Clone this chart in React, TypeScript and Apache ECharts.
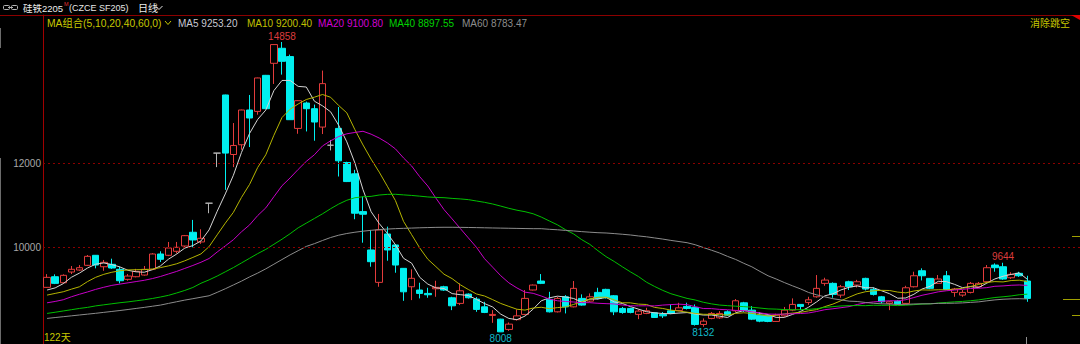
import React, { useEffect, useRef } from 'react';
import * as echarts from 'echarts';

// ---- daily OHLC (122 trading days) ----
const open = [
  9063, 9314, 9172, 9425, 9472, 9583, 9820, 9550, 9607, 9489,
  9252, 9314, 9354, 9489, 9851, 9820, 9915, 10040, 10364, 10135,
  11051, 12234, 13607, 12201, 12431, 13252, 13219, 14071, 14355, 14710,
  14514, 12817, 13417, 13283, 12849, 12420, 12817, 12012, 11745, 10852,
  9946, 9181, 10324, 10064, 9512, 9077, 9000, 8920, 9029, 9077,
  8817, 8684, 8904, 8786, 8603, 8400, 8312, 8069, 8300, 8424,
  9000, 9212, 8779, 8485, 8840, 8603, 8802, 8738, 8944, 9015,
  8864, 8565, 8565, 8424, 8447, 8462, 8424, 8509, 8518, 8613,
  8589, 8187, 8329, 8343, 8485, 8509, 8698, 8525, 8407, 8400,
  8258, 8390, 8525, 8660, 8707, 8840, 9157, 9157, 8880, 9195,
  9117, 9275, 9015, 8840, 8684, 8738, 8684, 9077, 9455, 9275,
  9157, 9337, 8944, 8880, 8944, 9077, 9195, 9590, 9550, 9290,
  9394, 9212,
];
const close = [
  9299, 9157, 9347, 9489, 9527, 9796, 9590, 9654, 9520, 9219,
  9330, 9441, 9489, 9851, 9725, 9993, 10009, 10284, 10182, 10222,
  11051, 12234, 12234, 12414, 13252, 13063, 14009, 13283, 14797, 14402,
  13023, 13472, 13283, 12968, 13875, 12420, 12052, 11562, 10814, 10790,
  9669, 10419, 9946, 9590, 8958, 9276, 8920, 8888, 9063, 8999,
  8627, 8982, 8817, 8542, 8471, 8424, 8012, 8194, 8390, 8802,
  9117, 9157, 8485, 8802, 8603, 9039, 8644, 8840, 8802, 8817,
  8485, 8471, 8471, 8502, 8510, 8352, 8390, 8447, 8580, 8565,
  8187, 8265, 8447, 8447, 8407, 8746, 8525, 8312, 8265, 8258,
  8407, 8525, 8660, 8613, 8769, 9039, 9235, 8897, 9077, 9077,
  9195, 9023, 8897, 8722, 8722, 8667, 9053, 9337, 9337, 9039,
  9260, 9015, 9023, 8944, 9157, 9157, 9527, 9527, 9259, 9370,
  9337, 8802,
];
const low = [
  9050, 9140, 9160, 9377, 9455, 9567, 9512, 9455, 9500, 9157,
  9219, 9300, 9340, 9470, 9661, 9800, 9867, 9990, 10009, 10090,
  10814, 11903, 11366, 11903, 12313, 12376, 13141, 13283, 13867, 14088,
  13023, 12691, 12746, 12526, 12684, 12297, 11681, 11550, 10672, 10118,
  9550, 9077, 9692, 9408, 8745, 8762, 8802, 8818, 8840, 8980,
  8525, 8644, 8800, 8485, 8455, 8225, 8008, 8035, 8280, 8407,
  8990, 9140, 8470, 8470, 8447, 8590, 8630, 8720, 8780, 8800,
  8407, 8440, 8450, 8312, 8430, 8340, 8340, 8430, 8500, 8540,
  8160, 8132, 8310, 8320, 8390, 8480, 8480, 8290, 8240, 8240,
  8250, 8370, 8500, 8525, 8650, 8820, 9100, 8818, 8818, 9000,
  9060, 8990, 8870, 8680, 8525, 8650, 8660, 9060, 9226, 9020,
  9150, 9000, 8840, 8840, 8920, 9050, 9170, 9432, 9240, 9260,
  9310, 8722,
];
const high = [
  9376, 9370, 9370, 9567, 9590, 9827, 9827, 9710, 9740, 9550,
  9377, 9500, 9567, 9870, 9915, 10135, 10135, 10300, 10656, 10435,
  11051, 12234, 13614, 12944, 13260, 13607, 14016, 14080, 14800, 14858,
  14561, 13480, 13450, 13380, 14183, 12544, 13323, 12030, 11839, 11207,
  10419, 10797, 10497, 10080, 9520, 9489, 9172, 9053, 9219, 9100,
  8840, 9157, 8920, 8833, 8722, 8525, 8320, 8234, 8542, 9000,
  9130, 9377, 8958, 8840, 8880, 9212, 8897, 8920, 9053, 9030,
  8880, 8600, 8580, 8542, 8580, 8480, 8480, 8660, 8698, 8700,
  8660, 8329, 8480, 8502, 8520, 8786, 8720, 8620, 8480, 8420,
  8440, 8600, 8802, 8665, 8840, 9354, 9290, 9180, 9120, 9220,
  9240, 9290, 9062, 8860, 8740, 8760, 9100, 9432, 9512, 9280,
  9354, 9450, 9050, 9000, 9190, 9190, 9590, 9630, 9644, 9420,
  9430, 9337,
];

// ---- moving averages as drawn ----
const ma5 = [
  9000, 9050, 9150, 9300, 9400, 9520, 9610, 9640, 9600, 9545,
  9465, 9430, 9420, 9480, 9570, 9730, 9850, 9990, 10050, 10160,
  10420, 10860, 11270, 11710, 12250, 12700, 13030, 13250, 13710, 13950,
  13950, 13810, 13795, 13460, 13350, 13210, 12890, 12500, 12000, 11370,
  10850, 10570, 10340, 10070, 9750, 9635, 9300, 9140, 9050, 9035,
  8915, 8890, 8870, 8780, 8680, 8600, 8430, 8329, 8300, 8385,
  8550, 8745, 8815, 8855, 8835, 8800, 8715, 8786, 8786, 8828,
  8718, 8683, 8609, 8549, 8488, 8461, 8445, 8440, 8456, 8467,
  8434, 8409, 8409, 8382, 8351, 8462, 8514, 8487, 8451, 8421,
  8353, 8353, 8423, 8493, 8595, 8721, 8863, 8911, 9003, 9065,
  9096, 9054, 9054, 8983, 8912, 8806, 8812, 8900, 9023, 9087,
  9205, 9198, 9135, 9056, 9080, 9059, 9162, 9262, 9325, 9368,
  9404, 9253,
];
const ma10 = [
  8880, 8920, 8959, 9020, 9077, 9200, 9300, 9370, 9420, 9455,
  9475, 9480, 9482, 9495, 9530, 9570, 9620, 9690, 9770, 9853,
  10025, 10304, 10579, 10835, 11188, 11495, 11895, 12194, 12656, 13074,
  13271, 13395, 13500, 13555, 13618, 13553, 13358, 13185, 12787, 12426,
  12091, 11785, 11452, 11114, 10622, 10308, 9994, 9727, 9552, 9373,
  9269, 9125, 9012, 8907, 8859, 8773, 8683, 8613, 8546, 8526,
  8575, 8593, 8559, 8585, 8599, 8660, 8723, 8788, 8829, 8831,
  8767, 8699, 8697, 8667, 8658, 8589, 8564, 8525, 8503, 8477,
  8448, 8427, 8425, 8419, 8409, 8448, 8462, 8448, 8417, 8386,
  8408, 8434, 8455, 8472, 8508, 8537, 8608, 8667, 8748, 8830,
  8909, 8959, 8982, 8993, 8988, 8951, 8933, 8977, 9003, 8999,
  9006, 9005, 9018, 9040, 9083, 9132, 9180, 9199, 9191, 9224,
  9232, 9200,
];
const ma20 = [
  8698, 8730, 8770, 8840, 8900, 8955, 9015, 9065, 9110, 9140,
  9170, 9200, 9230, 9270, 9320, 9380, 9440, 9510, 9580, 9656,
  9744, 9898, 10042, 10188, 10375, 10538, 10759, 10940, 11204, 11463,
  11648, 11849, 12039, 12195, 12403, 12524, 12626, 12690, 12722, 12750,
  12681, 12590, 12476, 12334, 12120, 11930, 11676, 11456, 11170, 10899,
  10680, 10455, 10232, 10010, 9740, 9540, 9338, 9170, 9049, 8949,
  8922, 8859, 8786, 8746, 8729, 8717, 8703, 8701, 8687, 8678,
  8671, 8646, 8628, 8626, 8628, 8625, 8644, 8656, 8666, 8654,
  8607, 8563, 8561, 8543, 8533, 8519, 8513, 8486, 8460, 8432,
  8428, 8430, 8440, 8445, 8458, 8493, 8535, 8557, 8582, 8608,
  8658, 8696, 8719, 8732, 8748, 8744, 8771, 8822, 8876, 8915,
  8957, 8982, 9000, 9016, 9036, 9042, 9056, 9088, 9097, 9112,
  9119, 9108,
];
const ma40 = [
  8447, 8475, 8505, 8535, 8565, 8590, 8625, 8650, 8675, 8700,
  8720, 8745, 8770, 8800, 8835, 8875, 8930, 8990, 9060, 9160,
  9240, 9330, 9430, 9530, 9640, 9750, 9860, 9960, 10080, 10200,
  10330, 10470, 10580, 10690, 10800, 10920, 11030, 11120, 11180, 11203,
  11212, 11244, 11259, 11261, 11247, 11234, 11217, 11198, 11187, 11181,
  11164, 11152, 11135, 11103, 11071, 11032, 10982, 10930, 10885, 10850,
  10801, 10724, 10631, 10540, 10424, 10324, 10189, 10078, 9928, 9789,
  9675, 9550, 9430, 9318, 9184, 9083, 8991, 8913, 8857, 8802,
  8765, 8711, 8673, 8645, 8631, 8618, 8608, 8593, 8574, 8555,
  8549, 8538, 8534, 8536, 8543, 8559, 8589, 8607, 8624, 8631,
  8633, 8630, 8640, 8638, 8641, 8632, 8642, 8654, 8668, 8673,
  8692, 8706, 8720, 8731, 8747, 8767, 8796, 8823, 8840, 8860,
  8888, 8902,
];
const ma60 = [
  8329, 8350, 8370, 8390, 8410, 8430, 8450, 8472, 8494, 8516,
  8540, 8565, 8590, 8617, 8644, 8684, 8723, 8762, 8795, 8830,
  8864, 8945, 9030, 9120, 9210, 9310, 9400, 9500, 9610, 9720,
  9830, 9930, 10030, 10095, 10170, 10240, 10295, 10335, 10365, 10390,
  10410, 10428, 10440, 10450, 10457, 10463, 10470, 10475, 10480, 10482,
  10482, 10480, 10477, 10474, 10470, 10466, 10462, 10459, 10455, 10452,
  10449, 10449, 10434, 10423, 10408, 10395, 10379, 10366, 10354, 10347,
  10333, 10317, 10300, 10277, 10257, 10230, 10203, 10172, 10145, 10118,
  10070, 10004, 9941, 9875, 9794, 9722, 9631, 9548, 9439, 9336,
  9260, 9177, 9100, 9027, 8942, 8886, 8839, 8795, 8766, 8737,
  8729, 8706, 8688, 8674, 8670, 8660, 8662, 8670, 8674, 8675,
  8685, 8686, 8689, 8696, 8708, 8720, 8745, 8767, 8782, 8791,
  8795, 8789,
];

const yTicks = [10000, 12000];
const maNames = ['MA5', 'MA10', 'MA20', 'MA40', 'MA60'];
const maValues = ['9253.20', '9200.40', '9100.80', '8897.55', '8783.47'];
const maTextColors = ['#c8c8d2', '#c0c000', '#d200d2', '#00d200', '#8c8c8c'];
const maLineColors = ['#d4d4d4', '#b4b400', '#c800c8', '#00c000', '#8c8c8c'];
const maLegendX = [178, 247, 318, 389, 462];
const extremes = [
  { idx: 29, kind: 'high' },
  { idx: 56, kind: 'low' },
  { idx: 81, kind: 'low' },
  { idx: 118, kind: 'high' },
];
const titleName = '硅铁2205';
const titleCode = '(CZCE SF205)';
const periodText = '日线';
const maGroupText = 'MA组合(5,10,20,40,60,0)';
const gapText = '消除跳空';
const daysText = '122天';

const FONT = '"Liberation Sans", "Noto Sans CJK SC", Arial, sans-serif';

export default function App() {
  const ref = useRef<HTMLDivElement>(null);
  useEffect(() => {
    const chart = echarts.init(ref.current as HTMLDivElement, null, { renderer: 'svg' });
    const days = open.map((_, i) => String(i + 1));
    const candleData = open.map((o, i) => [o, close[i], low[i], high[i]]);
    const maSeries = [ma5, ma10, ma20, ma40, ma60];

    const markData = extremes.map((e) => {
      const isHigh = e.kind === 'high';
      const v = isHigh ? high[e.idx] : low[e.idx];
      return {
        coord: [e.idx, v],
        value: v,
        label: {
          position: isHigh ? 'top' : 'bottom',
          distance: 1,
          color: isHigh ? '#dc3c3c' : '#10b8c8',
        },
      };
    });

    const txt = (x: number, y: number, text: string, fill: string, size = 10, align = 'left', family = FONT) => ({
      type: 'text',
      x,
      y,
      silent: true,
      style: { text, fill, font: `${size}px ${family}`, align, verticalAlign: 'middle' },
    });
    const ln = (x1: number, y1: number, x2: number, y2: number, stroke: string, w = 1) => ({
      type: 'line',
      silent: true,
      shape: { x1, y1, x2, y2 },
      style: { stroke, lineWidth: w },
    });

    const graphic: any[] = [
      ln(0, 15.5, 1080, 15.5, '#8c0000'),
      { type: 'polygon', silent: true, shape: { points: [[1071, 15], [1080, 15], [1080, 20]] }, style: { fill: '#e00000' } },
      // link icon
      { type: 'rect', silent: true, shape: { x: 3.5, y: 5.5, width: 6, height: 4, r: 1 }, style: { stroke: '#b4b4b4', fill: 'none', lineWidth: 1 } },
      { type: 'rect', silent: true, shape: { x: 11.5, y: 5.5, width: 6, height: 4, r: 1 }, style: { stroke: '#b4b4b4', fill: 'none', lineWidth: 1 } },
      ln(8, 7.5, 13, 7.5, '#b4b4b4'),
      txt(23, 8, titleName, '#ececec', 9.5),
      txt(64, 3.5, 'M', '#e03030', 5.5),
      txt(69, 8, titleCode, '#e6e6e6', 9),
      txt(138, 8, periodText, '#ececec', 10),
      { type: 'polyline', silent: true, shape: { points: [[155.5, 6], [159, 9.5], [162.5, 6]] }, style: { stroke: '#e6e6e6', lineWidth: 1, fill: 'none' } },
      txt(47, 23, maGroupText, '#c8c800', 10.3),
      { type: 'polyline', silent: true, shape: { points: [[165, 21], [168, 24.5], [171, 21]] }, style: { stroke: '#c8c800', lineWidth: 1, fill: 'none' } },
      ...maNames.map((n, i) => txt(maLegendX[i], 23, `${n} ${maValues[i]}`, maTextColors[i], 10)),
      txt(1070, 23, gapText, '#c8c800', 10, 'right'),
      txt(44, 337.5, daysText, '#c8c800', 10),
      // window edge marks
      ln(0.5, 28, 0.5, 48, '#6c6c6c'),
      ln(0.5, 158, 0.5, 344, '#6c6c6c'),
      ln(1026.5, 337, 1026.5, 344, '#909090'),
      ln(1072, 236.5, 1080, 236.5, '#a0a000'),
      ln(1063, 299.5, 1080, 299.5, '#a0a000'),
      ln(1072, 315.5, 1080, 315.5, '#a0a000'),
    ];

    chart.setOption({
      animation: false,
      backgroundColor: '#000000',
      grid: { left: 43, top: 15, width: 1040, bottom: 0 },
      xAxis: {
        type: 'category',
        data: days,
        max: 127,
        boundaryGap: true,
        axisLine: { show: false },
        axisTick: { show: false },
        axisLabel: { show: false },
        splitLine: { show: false },
      },
      yAxis: {
        type: 'value',
        min: 7725,
        max: 15496,
        axisLine: { show: true, lineStyle: { color: '#a00000', width: 1 } },
        axisTick: { show: false },
        splitLine: { show: false },
        axisLabel: {
          customValues: yTicks,
          formatter: (v: number) => String(v),
          color: '#a8a8a8',
          fontSize: 10,
          fontFamily: FONT,
          margin: 2,
        },
      },
      series: [
        {
          type: 'candlestick',
          data: candleData,
          barWidth: 7,
          silent: true,
          itemStyle: {
            color: '#000000',
            color0: '#00f0f0',
            borderColor: '#e43c3c',
            borderColor0: '#00f0f0',
            borderColorDoji: '#b4b4b4',
            borderWidth: 1,
          },
          markLine: {
            silent: true,
            symbol: ['none', 'none'],
            label: { show: false },
            lineStyle: { color: '#8c0000', type: [2, 3], width: 1 },
            data: yTicks.map((v) => ({ yAxis: v })),
          },
          markPoint: {
            silent: true,
            symbol: 'circle',
            symbolSize: 0,
            label: { show: true, fontSize: 10, fontFamily: FONT, formatter: '{c}' },
            data: markData,
          },
        },
        ...maSeries.map((d, i) => ({
          type: 'line',
          name: maNames[i],
          data: d,
          symbol: 'none',
          showSymbol: false,
          silent: true,
          lineStyle: { color: maLineColors[i], width: 1 },
          z: 3,
        })),
      ],
      graphic,
    });
    return () => chart.dispose();
  }, []);
  return <div ref={ref} style={{ position: 'fixed', left: 0, top: 0, width: 1080, height: 344 }} />;
}
